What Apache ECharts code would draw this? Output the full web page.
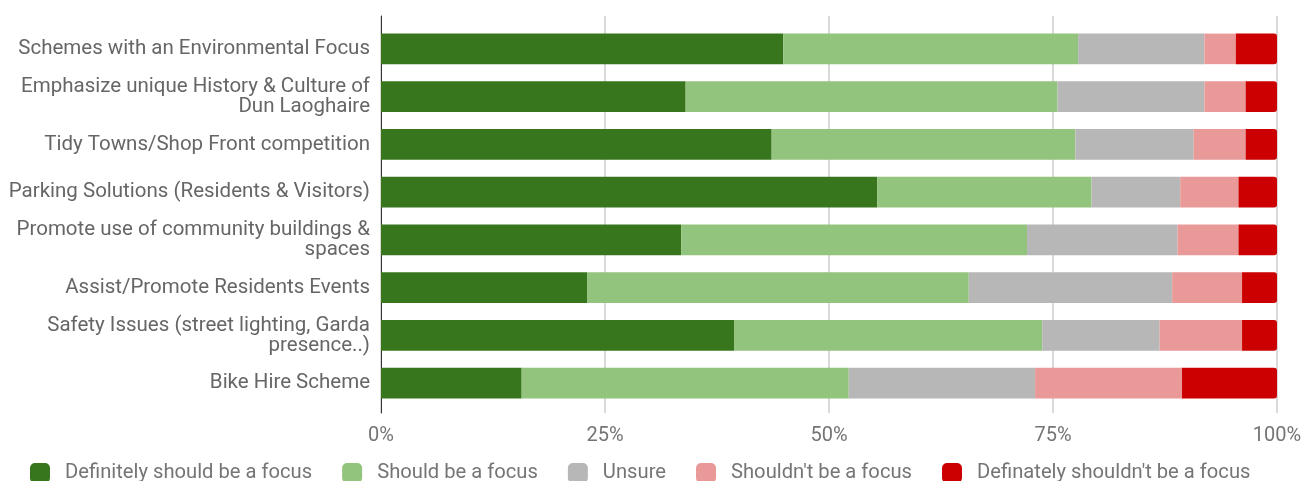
<!DOCTYPE html>
<html>
<head>
<meta charset="utf-8">
<script src="https://cdn.jsdelivr.net/npm/echarts@6/dist/echarts.min.js"></script>
<style>
html,body{margin:0;padding:0;background:#fff;}
#chart{width:1314px;height:481px;}
</style>
</head>
<body>
<div id="chart"></div>
<script>
const categories = [
  "Schemes with an Environmental Focus",
  "Emphasize unique History & Culture of\nDun Laoghaire",
  "Tidy Towns/Shop Front competition",
  "Parking Solutions (Residents & Visitors)",
  "Promote use of community buildings &\nspaces",
  "Assist/Promote Residents Events",
  "Safety Issues (street lighting, Garda\npresence..)",
  "Bike Hire Scheme"
];
const seriesNames = [
  "Definitely should be a focus",
  "Should be a focus",
  "Unsure",
  "Shouldn't be a focus",
  "Definately shouldn't be a focus"
];
const definitely = [44.9, 34.0, 43.6, 55.4, 33.5, 23.0, 39.4, 15.7];
const should     = [32.9, 41.5, 33.9, 23.9, 38.6, 42.6, 34.4, 36.5];
const unsure     = [14.1, 16.4, 13.2,  9.9, 16.8, 22.7, 13.1, 20.8];
const shouldnt   = [ 3.5,  4.6,  5.8,  6.5,  6.8,  7.8,  9.2, 16.4];
const definatelyNot = [4.6, 3.5,  3.5,  4.3,  4.3,  3.9,  3.9, 10.6];
const tickValues = [0, 25, 50, 75, 100];
const colors = ["#38761d", "#93c47d", "#b7b7b7", "#ea9999", "#cc0000"];

const allData = [definitely, should, unsure, shouldnt, definatelyNot];
const font = "Roboto, 'Noto Sans', sans-serif";
const xMin = tickValues[0], xMax = tickValues[tickValues.length - 1];

const chart = echarts.init(document.getElementById('chart'), null, {renderer: 'canvas'});
chart.setOption({
  animation: false,
  textStyle: {fontFamily: font},
  grid: [
    {left: 381, right: 37, top: 16, bottom: 68, containLabel: false},
    {left: 381, right: 37, top: 25, bottom: 74, containLabel: false}
  ],
  legend: {
    left: 30, top: 463, padding: 0,
    itemWidth: 20, itemHeight: 20, itemGap: 30,
    icon: 'roundRect',
    textStyle: {fontSize: 20.2, color: '#757575', fontFamily: font, padding: [0, 0, 0, 10]},
    data: seriesNames
  },
  xAxis: [
    {
      gridIndex: 0, type: 'value', min: xMin, max: xMax, interval: 25,
      axisLine: {show: false}, axisTick: {show: false},
      splitLine: {show: true, lineStyle: {color: '#cccccc', width: 1.5}},
      axisLabel: {fontSize: 20, color: '#757575', margin: 13, fontFamily: font,
        formatter: v => v + '%'}
    },
    {
      gridIndex: 1, type: 'value', min: xMin, max: xMax, interval: 25,
      show: false, splitLine: {show: false}
    }
  ],
  yAxis: [
    {
      gridIndex: 0, type: 'category', data: categories, inverse: true,
      axisLine: {show: true, lineStyle: {color: '#333333', width: 1}},
      axisTick: {show: false}, axisLabel: {show: false}, splitLine: {show: false}
    },
    {
      gridIndex: 1, type: 'category', data: categories, inverse: true,
      axisLine: {show: false}, axisTick: {show: false}, splitLine: {show: false},
      axisLabel: {fontSize: 20.5, color: '#666666', margin: 11, lineHeight: 20, align: 'right', fontFamily: font}
    }
  ],
  color: colors,
  series: seriesNames.map((name, i) => ({
    name: name, type: 'bar', stack: 'total', barWidth: '64%',
    xAxisIndex: 1, yAxisIndex: 1,
    data: allData[i],
    itemStyle: {color: colors[i], borderRadius: i === 4 ? [0, 3, 3, 0] : 0}
  }))
});
</script>
</body>
</html>
